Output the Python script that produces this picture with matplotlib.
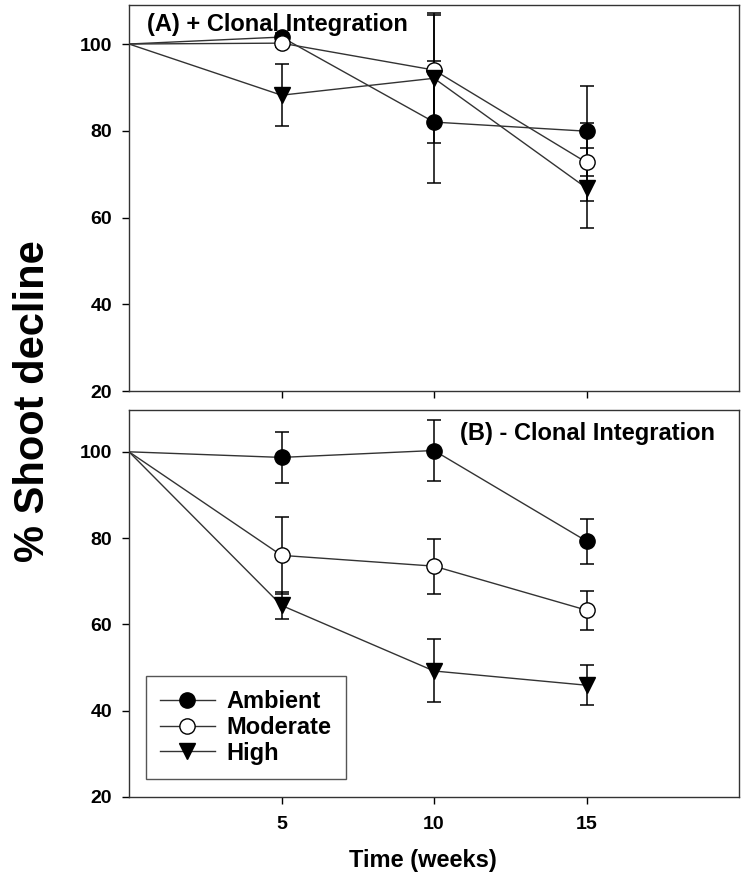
import numpy as np
import matplotlib
matplotlib.use("Agg")
import matplotlib.pyplot as plt
from matplotlib.lines import Line2D

plt.rcParams['font.family'] = ['Liberation Sans', 'DejaVu Sans']
plt.rcParams['font.weight'] = 'bold'

# Datos
weeks = [0, 5, 10, 15]

a_ambient = [100, 101.6, 82.0, 79.9]
a_ambient_err = [0, 1.0, 14.1, 10.4]
a_moderate = [100, 100.2, 94.0, 72.7]
a_moderate_err = [0, 1.0, 12.6, 9.0]
a_high = [100, 88.2, 92.1, 66.8]
a_high_err = [0, 7.1, 15.0, 9.2]

b_ambient = [100, 98.7, 100.3, 79.3]
b_ambient_err = [0, 5.9, 7.0, 5.2]
b_moderate = [100, 76.0, 73.5, 63.3]
b_moderate_err = [0, 9.0, 6.4, 4.5]
b_high = [100, 64.4, 49.2, 45.9]
b_high_err = [0, 3.2, 7.3, 4.6]

labels = ['Ambient', 'Moderate', 'High']
markers = ['o', 'o', 'v']
facecolors = ['black', 'white', 'black']


def draw_panel(ax, series, errs, ylim_top):
    for y, e, lab, m, fc in zip(series, errs, labels, markers, facecolors):
        x = np.array(weeks)
        y = np.array(y)
        e = np.array(e)
        ax.errorbar(x[1:], y[1:], yerr=e[1:], fmt='none', ecolor='black',
                    elinewidth=1.1, capsize=5, capthick=1.1, zorder=2)
        ax.plot(x, y, color='#333333', linewidth=1.0, zorder=3)
        ax.plot(x[1:], y[1:], linestyle='none', marker=m, markersize=11,
                markerfacecolor=fc, markeredgecolor='black',
                markeredgewidth=1.0, zorder=4, label=lab)
    ax.set_xlim(0, 20)
    ax.set_ylim(20, ylim_top)
    ax.set_xticks([5, 10, 15])
    ax.set_yticks([20, 40, 60, 80, 100])
    ax.tick_params(direction='out', length=5, width=1, pad=7,
                   labelsize=14, colors='black')
    for s in ax.spines.values():
        s.set_color('#333333')
        s.set_linewidth(1.0)


fig = plt.figure(figsize=(7.41, 8.73), dpi=100)
ax1 = fig.add_axes([0.1741, 0.5521, 0.8232, 0.4422])
ax2 = fig.add_axes([0.1741, 0.0871, 0.8232, 0.4433])

draw_panel(ax1, [a_ambient, a_moderate, a_high],
           [a_ambient_err, a_moderate_err, a_high_err], 109.0)
ax1.set_xticklabels([])
ax1.text(0.03, 0.95, '(A) + Clonal Integration', transform=ax1.transAxes,
         fontsize=17, fontweight='bold', va='center', ha='left')

draw_panel(ax2, [b_ambient, b_moderate, b_high],
           [b_ambient_err, b_moderate_err, b_high_err], 109.7)
ax2.tick_params(axis='x', pad=9)
ax2.text(0.96, 0.94, '(B) - Clonal Integration', transform=ax2.transAxes,
         fontsize=17, fontweight='bold', va='center', ha='right')

# leyenda con línea a través del marcador
handles = [Line2D([0], [0], color='#333333', linewidth=1.0, marker=m,
                  markersize=11, markerfacecolor=fc, markeredgecolor='black')
           for m, fc in zip(markers, facecolors)]
leg = ax2.legend(handles, labels, loc='lower left',
                 bbox_to_anchor=(0.028, 0.047), borderaxespad=0,
                 fancybox=False, edgecolor='#555555', framealpha=1,
                 fontsize=17, handlelength=2.3, labelspacing=0.12,
                 handletextpad=0.5, borderpad=0.6)
leg.get_frame().set_linewidth(1.0)

fig.text(0.571, 1 - 860 / 873, 'Time (weeks)', fontsize=17,
         fontweight='bold', ha='center', va='center')
fig.text(0.045, 0.540, '% Shoot decline', fontsize=30, fontweight='bold',
         rotation=90, ha='center', va='center')

fig.savefig('out.png', dpi=100)
